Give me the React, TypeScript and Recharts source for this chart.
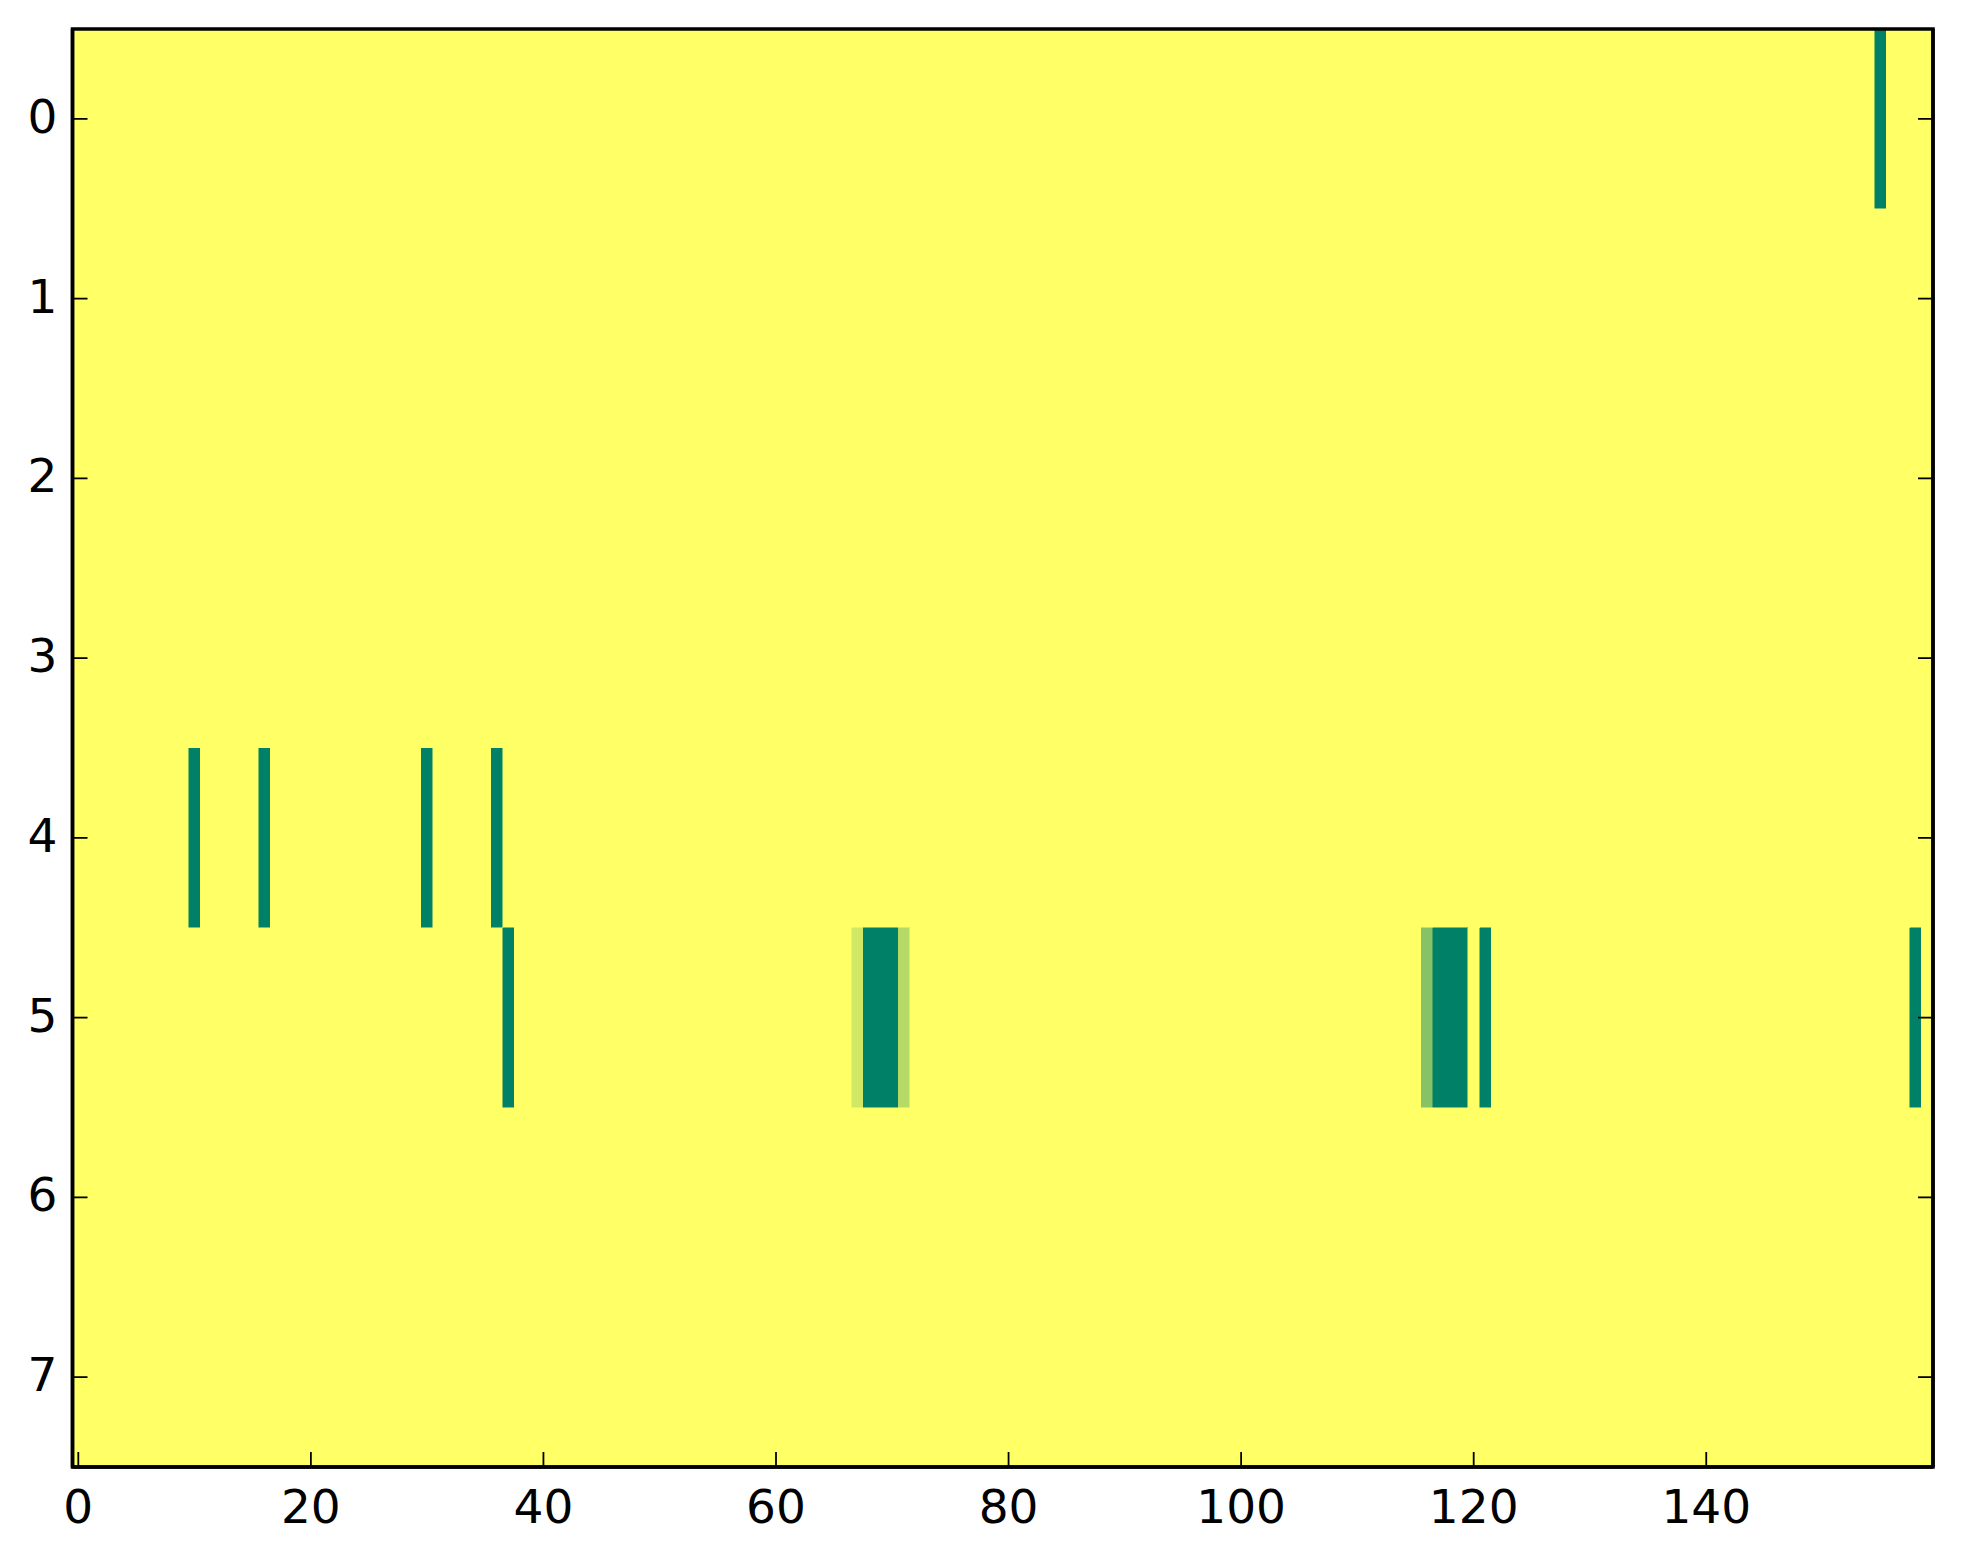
import { ReferenceArea, Scatter, ScatterChart, XAxis, YAxis } from "recharts";

// image size: 8 rows x 160 columns, values 0..1 (summer_r colormap)
const ROW_COUNT = 8;
const COL_COUNT = 160;

// non-zero cells, everything else is 0
const HOT_ROW = [0, 4, 4, 4, 4, 5, 5, 5, 5, 5, 5, 5, 5, 5, 5, 5, 5];
const HOT_COL = [155, 10, 16, 30, 36, 37, 67, 68, 69, 70, 71, 116, 117, 118, 119, 121, 158];
const HOT_VAL = [1, 1, 1, 1, 1, 1, 0.18, 1, 1, 1, 0.29, 0.47, 1, 1, 1, 1, 1];

const X_TICKS = [0, 20, 40, 60, 80, 100, 120, 140];
const Y_TICKS = [0, 1, 2, 3, 4, 5, 6, 7];

const FONT = "'DejaVu Sans', sans-serif";

// matplotlib summer_r
const summerR = (v: number) => {
  const r = Math.round((1 - v) * 255);
  const g = Math.round((1 - v / 2) * 255);
  const b = Math.round(0.4 * 255);
  return `rgb(${r},${g},${b})`;
};

const grid: number[][] = Array.from({ length: ROW_COUNT }, () =>
  Array(COL_COUNT).fill(0)
);
HOT_ROW.forEach((r, i) => {
  grid[r][HOT_COL[i]] = HOT_VAL[i];
});

const cells = grid.flatMap((row, r) =>
  row.map((value, c) => ({ r, c, value }))
);

const BottomTick = ({ x, y, payload }: any) => (
  <g>
    <line x1={x} x2={x} y1={y} y2={y - 15} stroke="#000" strokeWidth={1.8} />
    <text x={x} y={y + 56} textAnchor="middle" fontSize={47} fontFamily={FONT} fill="#000">
      {payload.value}
    </text>
  </g>
);

const TopTick = ({ x, y }: any) => (
  <line x1={x} x2={x} y1={y} y2={y + 15} stroke="#000" strokeWidth={1.8} />
);

const LeftTick = ({ x, y, payload }: any) => (
  <g>
    <line x1={x} x2={x + 15} y1={y} y2={y} stroke="#000" strokeWidth={1.8} />
    <text x={x - 15} y={y + 14} textAnchor="end" fontSize={47} fontFamily={FONT} fill="#000">
      {payload.value}
    </text>
  </g>
);

const RightTick = ({ x, y }: any) => (
  <line x1={x} x2={x - 15} y1={y} y2={y} stroke="#000" strokeWidth={1.8} />
);

const axisLine = { stroke: "#000", strokeWidth: 3.5 };

export default function App() {
  return (
    <div style={{ position: "absolute", left: 0, top: 0, background: "#fff" }}>
      <ScatterChart
        width={1963}
        height={1564}
        margin={{ top: 29, right: 0, bottom: 0, left: 0 }}
      >
        {cells.map((cell) => {
          const color = summerR(cell.value);
          return (
            <ReferenceArea
              key={`${cell.r}-${cell.c}`}
              x1={cell.c - 0.5}
              x2={cell.c + 0.5}
              y1={cell.r - 0.5}
              y2={cell.r + 0.5}
              fill={color}
              fillOpacity={1}
              stroke={color}
              strokeWidth={0.5}
              shapeRendering="crispEdges"
              ifOverflow="visible"
            />
          );
        })}
        {/* frame drawn over the cells so all four spines keep full width */}
        <ReferenceArea
          x1={-0.5}
          x2={COL_COUNT - 0.5}
          y1={-0.5}
          y2={ROW_COUNT - 0.5}
          fill="none"
          stroke="#000"
          strokeWidth={3.5}
          ifOverflow="visible"
        />
        <XAxis
          type="number"
          dataKey="x"
          domain={[-0.5, COL_COUNT - 0.5]}
          ticks={X_TICKS}
          interval={0}
          allowDataOverflow
          height={97}
          tickSize={0}
          tickMargin={0}
          tickLine={false}
          axisLine={axisLine}
          tick={<BottomTick />}
        />
        <XAxis
          xAxisId="top"
          orientation="top"
          type="number"
          dataKey="x"
          domain={[-0.5, COL_COUNT - 0.5]}
          ticks={X_TICKS}
          interval={0}
          allowDataOverflow
          height={0}
          tickSize={0}
          tickMargin={0}
          tickLine={false}
          axisLine={axisLine}
          tick={<TopTick />}
        />
        <YAxis
          type="number"
          dataKey="y"
          domain={[-0.5, ROW_COUNT - 0.5]}
          reversed
          ticks={Y_TICKS}
          interval={0}
          allowDataOverflow
          width={72.5}
          tickSize={0}
          tickMargin={0}
          tickLine={false}
          axisLine={axisLine}
          tick={<LeftTick />}
        />
        <YAxis
          yAxisId="right"
          orientation="right"
          type="number"
          dataKey="y"
          domain={[-0.5, ROW_COUNT - 0.5]}
          reversed
          ticks={Y_TICKS}
          interval={0}
          allowDataOverflow
          width={30}
          tickSize={0}
          tickMargin={0}
          tickLine={false}
          axisLine={axisLine}
          tick={<RightTick />}
        />
        <Scatter data={[]} isAnimationActive={false} />
      </ScatterChart>
    </div>
  );
}
